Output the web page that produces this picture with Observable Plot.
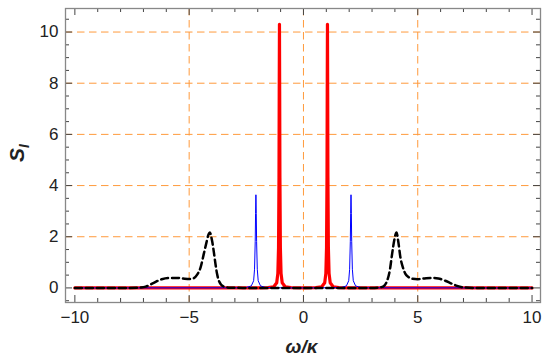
<!DOCTYPE html>
<html><head><meta charset="utf-8">
<script src="https://cdn.jsdelivr.net/npm/d3@7"></script>
<script src="https://cdn.jsdelivr.net/npm/@observablehq/plot@0.6"></script>
<style>body{margin:0;background:#fff}</style>
</head><body><div id="chart"></div>
<script>
// Red series (thick)
const redX = [-10, -2, -1.55, -1.3, -1.17, -1.12, -1.09, -1.07, -1.06, -1.05, -1.04, -1.03, -1.01, -0.98, -0.93, -0.8, -0.55, 0, 0.55, 0.8, 0.93, 0.98, 1.01, 1.03, 1.04, 1.05, 1.06, 1.07, 1.09, 1.12, 1.17, 1.3, 1.55, 2, 10];
const redY = [0, 0.005, 0.012, 0.047, 0.2, 0.57, 1.58, 4.32, 7.65, 10.3, 7.65, 4.32, 1.58, 0.57, 0.2, 0.047, 0.012, 0.004, 0.012, 0.047, 0.2, 0.57, 1.58, 4.32, 7.65, 10.3, 7.65, 4.32, 1.58, 0.57, 0.2, 0.047, 0.012, 0.005, 0];
// Blue series (thin)
const blueX = [-10, -2.9, -2.48, -2.28, -2.18, -2.14, -2.11, -2.095, -2.08, -2.065, -2.05, -2.02, -1.98, -1.88, -1.68, -1.2, 0, 1.2, 1.68, 1.88, 1.98, 2.02, 2.05, 2.065, 2.08, 2.095, 2.11, 2.14, 2.18, 2.28, 2.48, 2.9, 10];
const blueY = [0, 0.005, 0.02, 0.08, 0.28, 0.73, 1.82, 2.91, 3.64, 2.91, 1.82, 0.73, 0.28, 0.08, 0.02, 0.006, 0.002, 0.006, 0.02, 0.08, 0.28, 0.73, 1.82, 2.91, 3.64, 2.91, 1.82, 0.73, 0.28, 0.08, 0.02, 0.005, 0];
// Black dashed series
const blackX = [-10, -7.6, -7.2, -6.9, -6.55, -6.2, -5.9, -5.5, -5.2, -4.95, -4.8, -4.65, -4.5, -4.36, -4.25, -4.15, -4.1, -4.0, -3.92, -3.85, -3.78, -3.7, -3.5, -3.2, -2.5, 0,
                2.5, 3.0, 3.4, 3.55, 3.66, 3.78, 3.88, 3.98, 4.07, 4.15, 4.24, 4.35, 4.46, 4.6, 4.75, 5.0, 5.3, 5.6, 5.9, 6.2, 6.45, 6.72, 7.0, 7.5, 10];
const blackY = [0, 0, 0.01, 0.05, 0.2, 0.34, 0.39, 0.39, 0.36, 0.35, 0.38, 0.52, 0.8, 1.33, 1.75, 2.1, 2.17, 1.85, 1.4, 0.94, 0.55, 0.28, 0.06, 0.01, 0, 0,
                0, 0, 0.03, 0.1, 0.28, 0.7, 1.34, 1.9, 2.17, 1.8, 1.2, 0.8, 0.55, 0.42, 0.36, 0.34, 0.37, 0.39, 0.37, 0.28, 0.18, 0.08, 0.02, 0, 0];

// Axes, ticks, grid
const xDomain = [-10.41, 10.37];
const yDomain = [-0.57, 10.92];
const xMajor = [-10, -5, 0, 5, 10];
const xMinor = [-9, -8, -7, -6, -4, -3, -2, -1, 1, 2, 3, 4, 6, 7, 8, 9];
const yMajor = [0, 2, 4, 6, 8, 10];
const yMinor = [-0.5, 0.5, 1, 1.5, 2.5, 3, 3.5, 4.5, 5, 5.5, 6.5, 7, 7.5, 8.5, 9, 9.5, 10.5];
const xGrid = [-5, 0, 5];
const yGrid = [2, 4, 6, 8, 10];

const zip = (xs, ys) => xs.map((x, i) => ({x, y: ys[i]}));
const red = zip(redX, redY), blue = zip(blueX, blueY), black = zip(blackX, blackY);

const W = 542, H = 360, mL = 65, mR = 2, mT = 8, mB = 58;
const innerW = W - mL - mR, innerH = H - mT - mB;
const majorLen = 7, minorLen = 4;
const tickColor = "#444";
const gridColor = "#ff9a3c";

const chart = Plot.plot({
  width: W, height: H,
  marginLeft: mL, marginRight: mR, marginTop: mT, marginBottom: mB,
  x: {domain: xDomain},
  y: {domain: yDomain},
  style: {fontFamily: "Liberation Sans, Arial, sans-serif", fontSize: "17px", color: "#222", background: "#fff"},
  marks: [
    Plot.ruleY(yGrid, {y: d => d, stroke: gridColor, strokeWidth: 1, strokeDasharray: "7.5,4.5"}),
    Plot.ruleX(xGrid, {x: d => d, stroke: gridColor, strokeWidth: 1, strokeDasharray: "7.5,4.5"}),
    Plot.line(red, {x: "x", y: "y", stroke: "#ff0000", strokeWidth: 3.2, clip: true}),
    Plot.line(blue, {x: "x", y: "y", stroke: "#0000ff", strokeWidth: 1, clip: true}),
    Plot.line(black, {x: "x", y: "y", stroke: "#000", strokeWidth: 2.5, strokeDasharray: "7,4", curve: "monotone-x", clip: true}),
    // ticks inward: bottom, top
    Plot.tickX(xMajor, {x: d => d, insetTop: innerH - majorLen, stroke: tickColor}),
    Plot.tickX(xMinor, {x: d => d, insetTop: innerH - minorLen, stroke: tickColor}),
    Plot.tickX(xMajor, {x: d => d, insetBottom: innerH - majorLen, stroke: tickColor}),
    Plot.tickX(xMinor, {x: d => d, insetBottom: innerH - minorLen, stroke: tickColor}),
    // ticks inward: left, right
    Plot.tickY(yMajor, {y: d => d, insetRight: innerW - majorLen, stroke: tickColor}),
    Plot.tickY(yMinor, {y: d => d, insetRight: innerW - minorLen, stroke: tickColor}),
    Plot.tickY(yMajor, {y: d => d, insetLeft: innerW - majorLen, stroke: tickColor}),
    Plot.tickY(yMinor, {y: d => d, insetLeft: innerW - minorLen, stroke: tickColor}),
    Plot.axisX({ticks: xMajor, tickSize: 0, tickPadding: 8, label: null}),
    Plot.axisY({ticks: yMajor, tickSize: 0, tickPadding: 7, label: null}),
    Plot.frame({stroke: "#888", strokeWidth: 1.3})
  ]
});

const svg = d3.select(chart);
svg.append("text")
  .attr("x", mL + innerW / 2 - 1).attr("y", 353)
  .attr("text-anchor", "middle")
  .attr("font-family", "Liberation Sans, Arial, sans-serif")
  .attr("font-size", 19).attr("font-weight", "bold").attr("font-style", "italic")
  .attr("fill", "#222")
  .text("ω/κ");
const yl = svg.append("text")
  .attr("transform", `translate(24,${mT + innerH / 2 - 2}) rotate(-90)`)
  .attr("text-anchor", "middle")
  .attr("font-family", "Liberation Sans, Arial, sans-serif")
  .attr("font-size", 21).attr("font-weight", "bold").attr("font-style", "italic")
  .attr("fill", "#222");
yl.append("tspan").text("S");
yl.append("tspan").attr("font-size", 14).attr("dy", 5).text("I");

document.getElementById("chart").appendChild(chart);
</script>
</body></html>
